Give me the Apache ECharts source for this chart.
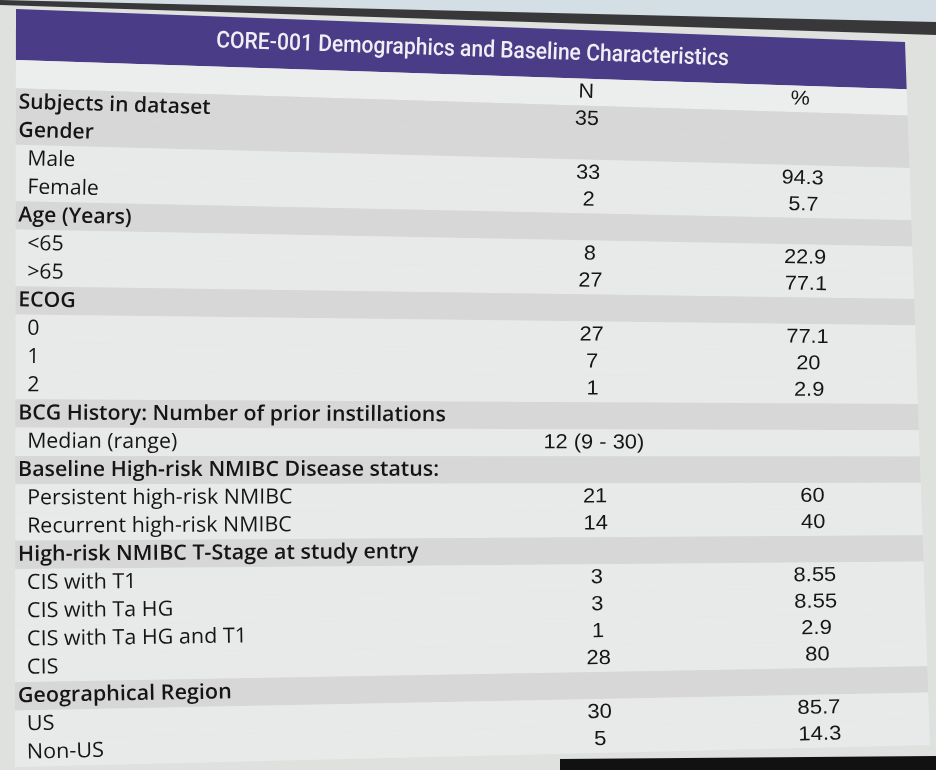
<!DOCTYPE html>
<html>
<head>
<meta charset="utf-8">
<script src="https://cdn.jsdelivr.net/npm/echarts@6/dist/echarts.min.js"></script>
<style>
  html, body { margin: 0; padding: 0; background: #dfe1df; }
  #chart { width: 936px; height: 770px; }
</style>
</head>
<body>
<div id="chart"></div>
<script>
const title = 'CORE-001 Demographics and Baseline Characteristics';

// 'col' = column heading row, 'group' = section heading, 'item' = sub row
const rowKinds = ['col', 'group', 'group', 'item', 'item', 'group', 'item', 'item', 'group', 'item', 'item', 'item',
  'group', 'item', 'group', 'item', 'item', 'group', 'item', 'item', 'item', 'item', 'group', 'item', 'item'];
const rowLabels = ['', 'Subjects in dataset', 'Gender', 'Male', 'Female', 'Age (Years)', '<65', '>65', 'ECOG', '0', '1', '2',
  'BCG History: Number of prior instillations', 'Median (range)', 'Baseline High-risk NMIBC Disease status:',
  'Persistent high-risk NMIBC', 'Recurrent high-risk NMIBC', 'High-risk NMIBC T-Stage at study entry',
  'CIS with T1', 'CIS with Ta HG', 'CIS with Ta HG and T1', 'CIS', 'Geographical Region', 'US', 'Non-US'];
const nValues = ['N', '35', '', '33', '2', '', '8', '27', '', '27', '7', '1',
  '', '12 (9 - 30)', '', '21', '14', '', '3', '3', '1', '28', '', '30', '5'];
const pctValues = ['%', '', '', '94.3', '5.7', '', '22.9', '77.1', '', '77.1', '20', '2.9',
  '', '', '', '60', '40', '', '8.55', '8.55', '2.9', '80', '', '85.7', '14.3'];

const HEAD = 1.8;                       // header height, in row units
const TOTAL = HEAD + rowLabels.length;

// flat table rectangle and the photographed (keystoned) quad it maps to
const flat = { left: 16, top: 9, width: 889, height: 758 };
const quad = { tl: [16, 9], tr: [905, 42], bl: [15, 767], br: [930, 745] };

function uv(p) {
  return [(p[0] - flat.left) / flat.width, (p[1] - flat.top) / flat.height];
}
function warp(p) {
  const [u, v] = uv(p);
  const w = [(1 - u) * (1 - v), u * (1 - v), (1 - u) * v, u * v];
  return [
    w[0] * quad.tl[0] + w[1] * quad.tr[0] + w[2] * quad.bl[0] + w[3] * quad.br[0],
    w[0] * quad.tl[1] + w[1] * quad.tr[1] + w[2] * quad.bl[1] + w[3] * quad.br[1]
  ];
}
function textAt(p, style, extra) {
  const [u, v] = uv(p);
  const dx = (1 - v) * (quad.tr[0] - quad.tl[0]) + v * (quad.br[0] - quad.bl[0]);
  const dy = (1 - v) * (quad.tr[1] - quad.tl[1]) + v * (quad.br[1] - quad.bl[1]);
  const hl = quad.bl[1] - quad.tl[1], hr = quad.br[1] - quad.tr[1];
  const q = warp(p);
  const sx = Math.hypot(dx, dy) / flat.width * ((extra && extra.sx) || 1);
  const sy = ((1 - u) * hl + u * hr) / flat.height;
  return {
    type: 'text', x: q[0], y: q[1],
    rotation: -Math.atan2(dy, dx), scaleX: sx, scaleY: sy,
    style: Object.assign({ verticalAlign: 'middle' }, style)
  };
}
function band(api, y0, y1) {
  return [[0, y0], [1, y0], [1, y1], [0, y1]].map(d => warp(api.coord(d)));
}

const ctx = document.createElement('canvas').getContext('2d');
ctx.font = '500 24px Roboto';
const titleScale = 512 / ctx.measureText(title).width;

const labelFont = '"Open Sans", sans-serif';
const numFont = '"Liberation Sans", Arial, sans-serif';
const bandColor = { col: '#eceeed', group: '#d6d7d6', item: '#e8eae9' };

const chart = echarts.init(document.getElementById('chart'));
chart.setOption({
  backgroundColor: '#dfe1df',
  animation: false,
  grid: { left: flat.left, top: flat.top, width: flat.width, height: flat.height },
  xAxis: { type: 'value', min: 0, max: 1, show: false },
  yAxis: { type: 'value', min: 0, max: TOTAL, inverse: true, show: false },
  graphic: [
    { type: 'polygon', shape: { points: [[0, 0], [936, 0], [936, 22], [0, 0]] }, style: { fill: '#d3dfe4' } },
    { type: 'polygon', shape: { points: [[0, 0], [936, 22], [936, 35], [0, 5]] }, style: { fill: '#38383a' } },
    { type: 'polygon', shape: { points: [[560, 770], [560, 759], [936, 756], [936, 770]] }, style: { fill: '#111' } }
  ],
  series: [
    {
      type: 'custom',
      name: 'header',
      clip: false,
      silent: true,
      data: [[0]],
      renderItem: function (params, api) {
        const mid = HEAD / 2;
        return {
          type: 'group',
          children: [
            { type: 'polygon', shape: { points: band(api, 0, HEAD) }, style: { fill: '#4b3c87' } },
            textAt(api.coord([0.513, mid]), {
              text: title, align: 'center', fill: '#f1eff6',
              fontFamily: 'Roboto', fontWeight: 500, fontSize: 24
            }, { sx: titleScale })
          ]
        };
      }
    },
    {
      type: 'custom',
      name: 'rows',
      clip: false,
      silent: true,
      data: rowLabels.map((d, i) => [i]),
      renderItem: function (params, api) {
        const i = api.value(0);
        const kind = rowKinds[i];
        const top = HEAD + i, mid = top + 0.5;
        const children = [
          { type: 'polygon', shape: { points: band(api, top, top + 1) }, style: { fill: bandColor[kind] } }
        ];
        if (rowLabels[i]) {
          children.push(textAt(api.coord([kind === 'group' ? 0.003 : 0.013, mid]), {
            text: rowLabels[i], align: 'left', fill: '#151515',
            fontFamily: labelFont, fontWeight: kind === 'group' ? 600 : 400, fontSize: 21
          }));
        }
        if (nValues[i]) {
          children.push(textAt(api.coord([0.64, mid]), {
            text: nValues[i], align: 'center', fill: '#151515', fontFamily: numFont, fontSize: 21.5
          }));
        }
        if (pctValues[i]) {
          children.push(textAt(api.coord([0.88, mid]), {
            text: pctValues[i], align: 'center', fill: '#151515', fontFamily: numFont, fontSize: 21.5
          }));
        }
        return { type: 'group', children: children };
      }
    }
  ]
});
</script>
</body>
</html>
